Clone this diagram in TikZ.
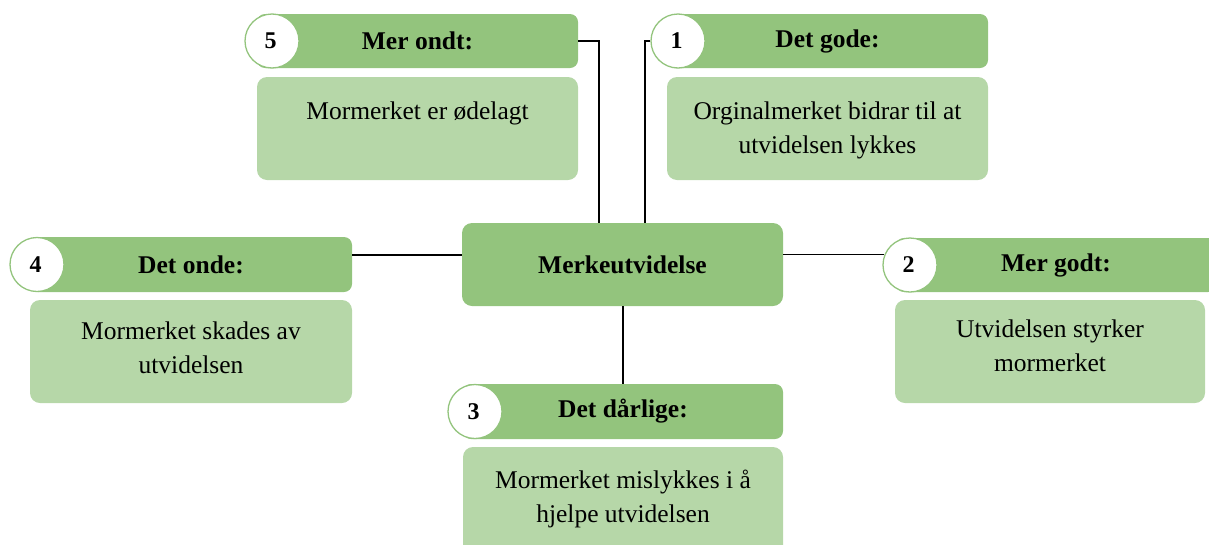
\documentclass[tikz,border=0pt]{standalone}
\usepackage{fontspec}
\setmainfont{Liberation Serif}
\usetikzlibrary{calc}
\definecolor{hdr}{HTML}{93C47D}
\definecolor{bdy}{HTML}{B6D7A8}
\begin{document}
\begin{tikzpicture}[x=1pt,y=-1pt,
  hdrbox/.style={fill=hdr, rounded corners=8pt, minimum height=54pt, inner sep=0pt,
    font=\fontsize{25.5}{30}\selectfont\bfseries},
  bdybox/.style={fill=bdy, rounded corners=10pt, inner sep=0pt},
  numc/.style={circle, draw=hdr, line width=1.3pt, fill=white, minimum size=54pt, inner sep=0pt,
    font=\fontsize{24}{28}\selectfont\bfseries},
  btxt/.style={anchor=north, align=center, inner sep=0pt, font=\fontsize{25.5}{34}\selectfont},
  conn/.style={draw=black, line width=1.3pt}]
\useasboundingbox (0,0) rectangle (1209,544);
\clip (0,0) rectangle (1209,544);

% centre
\node[hdrbox, minimum width=321pt, minimum height=83pt, rounded corners=10pt] (c) at (622.5,264.5) {Merkeutvidelse};

% box 5
\node[bdybox, minimum width=321pt, minimum height=103pt] (b5) at (417.5,128.5) {};
\node[btxt] (t5) at ($(b5.north)+(0,25)$) {Mormerket er ødelagt};
\node[hdrbox, minimum width=321pt] (h5) at (417.5,41) {Mer ondt:};
\node[numc] (n5) at (272,41) {\hspace*{-3pt}5};

% box 1
\node[bdybox, minimum width=321pt, minimum height=103pt] (b1) at (827.5,128.5) {};
\node[btxt] (t1) at ($(b1.north)+(0,25)$) {Orginalmerket bidrar til at\\utvidelsen lykkes};
\node[hdrbox, minimum width=321pt] (h1) at (827.5,41) {Det gode:};
\node[numc] (n1) at (678,41) {\hspace*{-3pt}1};

% box 4
\node[bdybox, minimum width=322pt, minimum height=103pt] (b4) at (191,351.5) {};
\node[btxt] (t4) at ($(b4.north)+(0,22)$) {Mormerket skades av\\utvidelsen};
\node[hdrbox, minimum width=322pt, minimum height=55pt] (h4) at (191,264.5) {Det onde:};
\node[numc] (n4) at (37,264.5) {\hspace*{-3pt}4};

% box 2
\node[bdybox, minimum width=310pt, minimum height=103pt] (b2) at (1050,351.5) {};
\node[btxt] (t2) at ($(b2.north)+(0,20)$) {Utvidelsen styrker\\mormerket};
\node[hdrbox, minimum width=320pt] (h2) at (1056,265) {Mer godt:};
\node[numc] (n2) at (910,265) {\hspace*{-3pt}2};

% box 3
\node[bdybox, minimum width=320pt, minimum height=113pt] (b3) at (623,503.5) {};
\node[btxt] (t3) at ($(b3.north)+(0,23)$) {Mormerket mislykkes i å\\hjelpe utvidelsen};
\node[hdrbox, minimum width=320pt, minimum height=55pt] (h3) at (623,411.5) {Det dårlige:};
\node[numc] (n3) at (475,411.5) {\hspace*{-3pt}3};

% connectors
\coordinate (k5) at (599,0);
\coordinate (k1) at (645,0);
\coordinate (ly) at (0,255);
\draw[conn] (h5.east) -| (c.north -| k5);
\draw[conn] (n1.west) -| (c.north -| k1);
\draw[conn] (h4.east |- ly) -- (c.west |- ly);
\draw[conn] (c.east |- n2.158) -- (n2.158);
\draw[conn] (c.south -| h3.north) -- (h3.north);
\end{tikzpicture}
\end{document}
